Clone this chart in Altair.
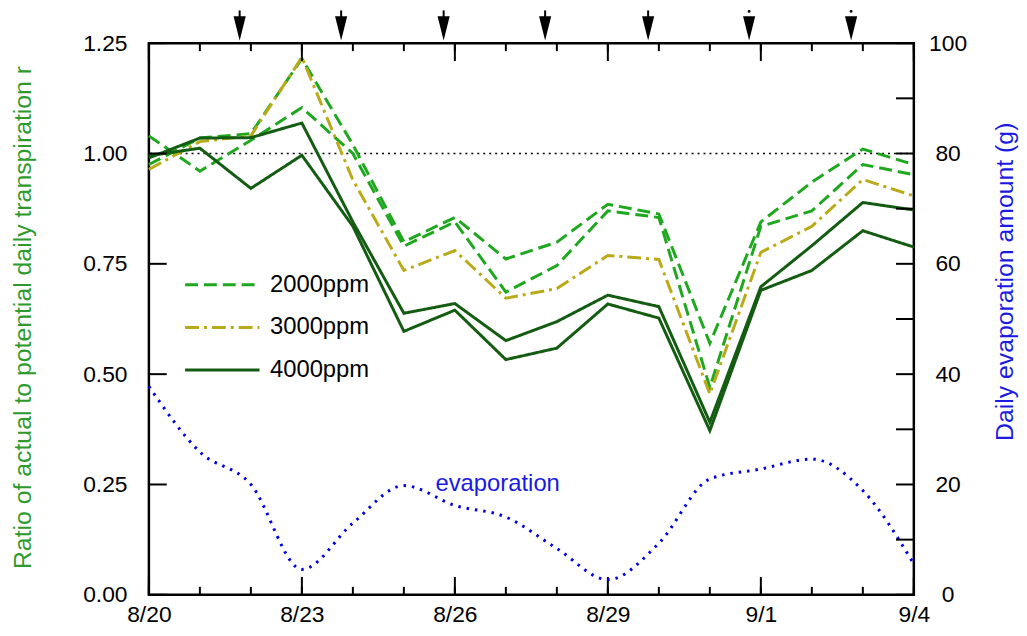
import altair as alt
import pandas as pd

# ---------------- data ----------------
date_labels = ["8/20", "8/21", "8/22", "8/23", "8/24", "8/25", "8/26", "8/27",
               "8/28", "8/29", "8/30", "8/31", "9/1", "9/2", "9/3", "9/4"]
days = list(range(16))

r_2000_a = [1.04, 0.96, 1.03, 1.104, 1.00, 0.790, 0.845, 0.686, 0.746, 0.870, 0.855, 0.47, 0.835, 0.870, 0.975, 0.952]
r_2000_b = [0.975, 1.035, 1.045, 1.215, 1.02, 0.800, 0.855, 0.761, 0.799, 0.885, 0.863, 0.57, 0.845, 0.935, 1.010, 0.975]
r_3000 = [0.964, 1.027, 1.04, 1.218, 0.94, 0.735, 0.780, 0.672, 0.694, 0.769, 0.760, 0.455, 0.776, 0.835, 0.941, 0.904]
r_4000_a = [0.99, 1.035, 1.036, 1.069, 0.845, 0.638, 0.660, 0.576, 0.619, 0.679, 0.653, 0.391, 0.698, 0.791, 0.889, 0.872]
r_4000_b = [0.995, 1.012, 0.921, 0.996, 0.835, 0.597, 0.645, 0.533, 0.559, 0.659, 0.627, 0.372, 0.690, 0.735, 0.825, 0.788]

evaporation_g = [37.8, 25.9, 20.0, 4.6, 13.0, 19.8, 16.2, 14.1, 8.4, 2.75, 9.35, 21.0, 22.8, 24.6, 18.9, 5.6]

arrow_days = [1.78, 3.77, 5.78, 7.77, 9.79, 11.77, 13.77]
arrow_kind = ["stem", "stem", "stem", "stem", "stem", "dot", "dot"]

treatments = ["2000ppm", "3000ppm", "4000ppm"]
treatment_colors = ["#1fa81f", "#b8aa18", "#135c12"]
treatment_dashes = [[13, 6], [14, 5, 3, 5], [1, 0]]

major_days = [0, 3, 6, 9, 12, 15]
left_tick_values = [0, 0.25, 0.5, 0.75, 1.0, 1.25]
right_tick_values = [0, 10, 20, 30, 40, 50, 60, 70, 80, 90, 100]
right_label_values = [0, 20, 40, 60, 80, 100]
reference_level = [1.0]
evap_label_day = [5.62]
evap_label_value = [20.0]

# ---------------- tables ----------------
series = [("2000a", "2000ppm", r_2000_a), ("2000b", "2000ppm", r_2000_b),
          ("3000", "3000ppm", r_3000),
          ("4000a", "4000ppm", r_4000_a), ("4000b", "4000ppm", r_4000_b)]
rows = []
for name, treat, vals in series:
    for d, v in zip(days, vals):
        rows.append({"day": d, "r": v, "treatment": treat, "series": name})
df_lines = pd.DataFrame(rows)
df_evap = pd.DataFrame({"day": days, "g": evaporation_g})
df_arrows = pd.DataFrame({"day": arrow_days, "kind": arrow_kind})
df_major = pd.DataFrame({"day": major_days})
df_minor = pd.DataFrame({"day": days})
df_left = pd.DataFrame({"r": left_tick_values})
df_right = pd.DataFrame({"g": right_tick_values})
df_ref = pd.DataFrame({"r": reference_level})
df_evlab = pd.DataFrame({"day": evap_label_day, "g": evap_label_value})

W, H = 771, 556
FONT = "Liberation Sans"
xscale = alt.Scale(domain=[0, 15], nice=False, zero=False)
yl = alt.Scale(domain=[0, 1.25], nice=False)
yr = alt.Scale(domain=[0, 100], nice=False)
label_expr = "[" + ",".join("'%s'" % s for s in date_labels) + "][datum.value]"

x_axis = alt.Axis(values=major_days, labelExpr=label_expr, ticks=False, tickSize=0, domain=False,
                  grid=False, labelPadding=9, labelFontSize=23, labelFont=FONT,
                  labelFlush=False, labelColor="black", title=None)
left_axis = alt.Axis(values=left_tick_values, format=".2f", ticks=False, tickSize=0, domain=False,
                     grid=False, labelPadding=22, labelFontSize=23, labelFont=FONT,
                     labelFlush=False, labelColor="black",
                     title="Ratio of actual to potential daily transpiration r",
                     titleColor="#2e9a2e", titleFontSize=25, titleFont=FONT,
                     titleFontWeight="normal", titleAngle=270, titleX=-114, titleY=276,
                     titleBaseline="bottom", titleAlign="center")
right_axis = alt.Axis(orient="right", values=right_label_values, ticks=False, tickSize=0,
                      domain=False, grid=False, labelPadding=34, labelAlign="center",
                      labelFlush=False, labelFontSize=23, labelFont=FONT, labelColor="black",
                      title="Daily evaporation amount (g)", titleColor="#1a1ae0",
                      titleFontSize=25, titleFont=FONT, titleFontWeight="normal",
                      titleAngle=270, titleX=104, titleY=240, titleBaseline="bottom",
                      titleAlign="center")

X = alt.X("day:Q", scale=xscale, axis=x_axis)
YL = alt.Y("r:Q", scale=yl, axis=left_axis)
YR = alt.Y("g:Q", scale=yr, axis=right_axis)

legend = alt.Legend(title=None, orient="none", legendX=35, legendY=223,
                    symbolType="stroke", symbolSize=5625, symbolStrokeWidth=3,
                    labelFontSize=24, labelFont=FONT, labelColor="black",
                    clipHeight=41, rowPadding=2, padding=0, labelOffset=9)

lines = alt.Chart(df_lines).mark_line(strokeWidth=3).encode(
    x=X, y=YL,
    color=alt.Color("treatment:N", scale=alt.Scale(domain=treatments, range=treatment_colors),
                    legend=legend),
    strokeDash=alt.StrokeDash("treatment:N",
                              scale=alt.Scale(domain=treatments, range=treatment_dashes),
                              legend=legend),
    detail="series:N",
)

ref = alt.Chart(df_ref).mark_rule(color="black", strokeDash=[2, 4], strokeWidth=1.6).encode(y=YL)

def xtick(df, y0, y1):
    return alt.Chart(df).mark_rule(color="black", strokeWidth=2).encode(
        x=X, y=alt.value(y0), y2=alt.value(y1))

bottom_major = xtick(df_major, H, H - 18)
bottom_minor = xtick(df_minor, H, H - 8)
top_major = xtick(df_major, 0, 18)
top_minor = xtick(df_minor, 0, 8)

left_ticks = alt.Chart(df_left).mark_rule(color="black", strokeWidth=2).encode(
    y=YL, x=alt.value(0), x2=alt.value(18))

stems = alt.Chart(df_arrows).transform_filter(alt.datum.kind == "stem").mark_rule(
    color="black", strokeWidth=2).encode(x=X, y=alt.value(-33), y2=alt.value(-24))
dots = alt.Chart(df_arrows).transform_filter(alt.datum.kind == "dot").mark_point(
    shape="circle", filled=True, color="black", size=8, opacity=1).encode(
    x=X, y=alt.value(-32))
heads = alt.Chart(df_arrows).mark_point(
    shape="M-0.5,-1L0.5,-1L0,1Z", filled=True, color="black", size=600, opacity=1,
    strokeWidth=0).encode(x=X, y=alt.value(-15))

left_group = alt.layer(ref, lines, bottom_major, bottom_minor, top_major, top_minor,
                       left_ticks, stems, dots, heads)

evap = alt.Chart(df_evap).mark_line(color="#0000dd", strokeWidth=3, strokeDash=[2.5, 6],
                                    interpolate="monotone").encode(x=X, y=YR)

evap_text = alt.Chart(df_evlab).mark_text(text="evaporation", color="#1a1ae0", fontSize=24,
                                          font=FONT, align="left", baseline="middle").encode(
    x=X, y=YR)

right_ticks = alt.Chart(df_right).mark_rule(color="black", strokeWidth=2).encode(
    y=YR, x=alt.value(W), x2=alt.value(W - 18))

right_group = alt.layer(evap, evap_text, right_ticks)

chart = alt.layer(left_group, right_group).resolve_scale(y="independent").properties(
    width=W, height=H,
    autosize=alt.AutoSizeParams(type="none"),
    padding={"left": 142, "top": 33, "right": 106, "bottom": 31},
    background="white",
).configure_view(stroke="black", strokeWidth=2.5)

chart.save("out.html", embed_options={"renderer": "svg", "actions": False})
